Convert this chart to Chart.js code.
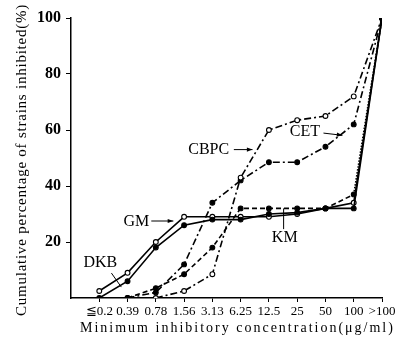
<!DOCTYPE html>
<html>
<head>
<meta charset="utf-8">
<script src="https://cdn.jsdelivr.net/npm/chart.js@4/dist/chart.umd.min.js"></script>
<style>
  html, body { margin: 0; padding: 0; background: #fff; }
  #chart { display: block; }
</style>
</head>
<body>
<canvas id="chart" width="402" height="340"></canvas>
<script>
"use strict";

// MIC categories (x axis)
var micLabels = ['≦0.2', '0.39', '0.78', '1.56', '3.13', '6.25', '12.5', '25', '50', '100', '>100'];

// cumulative % of strains inhibited, one value per MIC category
var dkb  = [0, 6, 18, 26, 28, 28, 30, 30.5, 32, 32, 100];
var gm   = [2.5, 9, 20, 29, 29, 29, 29, 30, 32, 34, 100];
var km   = [null, 0, 3.5, 8.5, 18, 32, 32, 32, 32, 37, 100];
var cbpc = [null, null, 0, 2.5, 8.5, 43, 60, 63.5, 65, 72, 100];
var cet  = [null, 0, 2, 12, 34, 42, 48.5, 48.5, 54, 62, 100];

var yTicks = [20, 40, 60, 80, 100];

var yTitle = 'Cumulative percentage of strains inhibited(%)';
var xTitle = 'Minimum inhibitory concentration(μg/ml)';

(function () {
  var serif, toPoints, dashDot, notes, notesPlugin, config;

  serif = "'Liberation Serif', 'DejaVu Serif', serif";
  dashDot = [7, 3, 2, 3];

  toPoints = function (values) {
    var i, results = [];
    for (i = 0; i < values.length; i++) {
      results.push({ x: i, y: values[i] });
    }
    return results;
  };

  // curve labels, placed in data units (x = category index, y = %)
  notes = [
    { text: 'DKB',  at: [0.04, 12.5], from: [0.43, 8.9],  to: [0.78, 3.9],  arrow: false },
    { text: 'GM',   at: [1.31, 27.2], from: [1.84, 27.5], to: [2.62, 27.5], arrow: true },
    { text: 'KM',   at: [6.56, 21.6], from: [6.52, 24.6], to: [6.52, 32],   arrow: false },
    { text: 'CBPC', at: [3.87, 52.9], from: [4.76, 53],   to: [5.42, 53],   arrow: true },
    { text: 'CET',  at: [7.27, 59.3], from: [7.93, 58.9], to: [8.6, 58.1],  arrow: true }
  ];

  notesPlugin = {
    id: 'notes',
    afterDatasetsDraw: function (chart) {
      var ctx = chart.ctx, xs = chart.scales.x, ys = chart.scales.y;
      var area = chart.chartArea, i, n, x0, y0, x1, y1, ang, w, sp;

      ctx.save();
      ctx.fillStyle = '#000';
      ctx.strokeStyle = '#000';
      ctx.lineWidth = 1;
      ctx.font = '16px ' + serif;
      ctx.textAlign = 'center';
      ctx.textBaseline = 'middle';

      for (i = 0; i < notes.length; i++) {
        n = notes[i];
        ctx.fillText(n.text, xs.getPixelForValue(n.at[0]), ys.getPixelForValue(n.at[1]));
        x0 = xs.getPixelForValue(n.from[0]);
        y0 = ys.getPixelForValue(n.from[1]);
        x1 = xs.getPixelForValue(n.to[0]);
        y1 = ys.getPixelForValue(n.to[1]);
        ctx.beginPath();
        ctx.moveTo(x0, y0);
        ctx.lineTo(x1, y1);
        ctx.stroke();
        if (n.arrow) {
          ang = Math.atan2(y1 - y0, x1 - x0);
          ctx.beginPath();
          ctx.moveTo(x1, y1);
          ctx.lineTo(x1 - 6 * Math.cos(ang - 0.35), y1 - 6 * Math.sin(ang - 0.35));
          ctx.lineTo(x1 - 6 * Math.cos(ang + 0.35), y1 - 6 * Math.sin(ang + 0.35));
          ctx.closePath();
          ctx.fill();
        }
      }

      // axis titles
      ctx.font = '15px ' + serif;
      ctx.save();
      ctx.translate(22, (area.top + area.bottom) / 2 + 2);
      ctx.rotate(-Math.PI / 2);
      w = ctx.measureText(yTitle).width;
      sp = (312 - w) / yTitle.length;
      ctx.letterSpacing = sp.toFixed(2) + 'px';
      ctx.fillText(yTitle, 0, 0);
      ctx.restore();

      ctx.font = '14px ' + serif;
      ctx.letterSpacing = '0px';
      w = ctx.measureText(xTitle).width;
      sp = (315 - w) / xTitle.length;
      ctx.letterSpacing = sp.toFixed(2) + 'px';
      ctx.textAlign = 'left';
      ctx.fillText(xTitle, 80, 328);
      ctx.restore();
    }
  };

  config = {
    type: 'line',
    data: {
      datasets: [{
        label: 'DKB',
        data: toPoints(dkb),
        borderColor: '#000',
        pointBackgroundColor: '#000',
        pointBorderColor: '#000'
      }, {
        label: 'GM',
        data: toPoints(gm),
        borderColor: '#000',
        pointBackgroundColor: '#fff',
        pointBorderColor: '#000'
      }, {
        label: 'KM',
        data: toPoints(km),
        borderColor: '#000',
        borderDash: [5, 3],
        segment: {
          borderDash: function (c) { return c.p1DataIndex === km.length - 1 ? [1.5, 1.5] : [5, 3]; }
        },
        pointBackgroundColor: '#000',
        pointBorderColor: '#000'
      }, {
        label: 'CBPC',
        data: toPoints(cbpc),
        borderColor: '#000',
        borderDash: dashDot,
        pointBackgroundColor: '#fff',
        pointBorderColor: '#000'
      }, {
        label: 'CET',
        data: toPoints(cet),
        borderColor: '#000',
        borderDash: dashDot,
        pointBackgroundColor: '#000',
        pointBorderColor: '#000'
      }]
    },
    options: {
      responsive: false,
      animation: false,
      devicePixelRatio: 1,
      layout: { padding: { top: 18, right: 20, left: 0, bottom: 0 } },
      elements: {
        line: { borderWidth: 1.6, tension: 0, fill: false },
        point: { radius: 2.4, borderWidth: 1.1, hoverRadius: 2.4 }
      },
      plugins: {
        legend: { display: false },
        tooltip: { enabled: false }
      },
      scales: {
        x: {
          type: 'linear',
          min: -1,
          max: micLabels.length - 1,
          afterFit: function (scale) { scale.height = 42; },
          afterBuildTicks: function (scale) {
            var i, t = [];
            for (i = 0; i < micLabels.length; i++) t.push({ value: i });
            scale.ticks = t;
          },
          ticks: {
            autoSkip: false,
            maxRotation: 0,
            padding: 2,
            color: '#000',
            font: { family: serif, size: 13 },
            callback: function (v) { return micLabels[v] !== undefined ? micLabels[v] : ''; }
          },
          grid: { drawOnChartArea: false, drawTicks: true, tickLength: 4, color: '#000' },
          border: { color: '#000', width: 1.5 }
        },
        y: {
          min: 0,
          max: 100,
          afterFit: function (scale) { scale.width = 71; },
          afterBuildTicks: function (scale) {
            scale.ticks = yTicks.map(function (v) { return { value: v }; });
          },
          ticks: {
            padding: 5,
            color: '#000',
            font: { family: serif, size: 16, weight: 'bold' }
          },
          grid: { drawOnChartArea: false, drawTicks: true, tickLength: 5, color: '#000' },
          border: { color: '#000', width: 1.5 }
        }
      }
    },
    plugins: [notesPlugin]
  };

  new Chart(document.getElementById('chart'), config);
}).call(void 0);
</script>
</body>
</html>
